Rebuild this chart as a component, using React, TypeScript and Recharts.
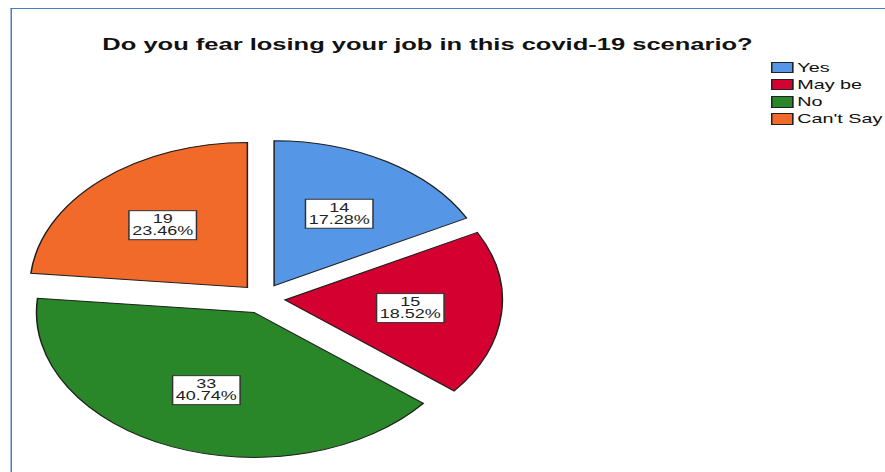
import { PieChart, Pie, Legend, Sector } from "recharts";

const categories = ["Yes", "May be", "No", "Can't Say"];
const counts = [14, 15, 33, 19];
const colors = ["#5597e6", "#d4002f", "#298629", "#f26a2a"];

const title = "Do you fear losing your job in this covid-19 scenario?";

const FONT = '"Liberation Sans", Arial, sans-serif';
// the original export is stretched horizontally, so draw at 590 wide and scale by 1.5
const STRETCH = 1.5;
const RAD = Math.PI / 180;
const EXPLODE = 15;
const LABEL_R = 99;

const data = categories.map((name, i) => ({ name, value: counts[i], fill: colors[i] }));

const ExplodedSector = (props: any) => {
  const { cx, cy, outerRadius, startAngle, endAngle, fill } = props;
  const mid = ((startAngle + endAngle) / 2) * RAD;
  const dx = EXPLODE * Math.cos(mid);
  const dy = -EXPLODE * Math.sin(mid);
  return (
    <Sector
      cx={cx + dx}
      cy={cy + dy}
      innerRadius={0}
      outerRadius={outerRadius}
      startAngle={startAngle}
      endAngle={endAngle}
      fill={fill}
      stroke="#1e1e1e"
      strokeWidth={1}
    />
  );
};

const renderLabel = (props: any) => {
  const { cx, cy, midAngle, value, percent } = props;
  const x = cx + LABEL_R * Math.cos(-midAngle * RAD);
  const y = cy + LABEL_R * Math.sin(-midAngle * RAD);
  return (
    <g>
      <rect x={x - 22.5} y={y - 14.5} width={45} height={29} fill="#fff" stroke="#333" strokeWidth={1} />
      <text x={x} y={y - 6.5} textAnchor="middle" dominantBaseline="central" fontSize={12} fontFamily={FONT} fill="#222">
        {value}
      </text>
      <text x={x} y={y + 5.5} textAnchor="middle" dominantBaseline="central" fontSize={12} fontFamily={FONT} fill="#222">
        {(percent * 100).toFixed(2)}%
      </text>
    </g>
  );
};

const LegendBox = ({ payload }: any) => {
  const items = [...(payload || [])].sort(
    (a: any, b: any) => categories.indexOf(a.value) - categories.indexOf(b.value)
  );
  return (
    <div>
      {items.map((p: any) => (
        <div key={p.value} style={{ display: "flex", alignItems: "center", height: 17.2, whiteSpace: "nowrap" }}>
          <span
            style={{
              width: 14.5,
              height: 11.5,
              background: colors[categories.indexOf(p.value)],
              border: "1px solid #222",
              boxSizing: "border-box",
              marginRight: 3,
              flex: "none",
            }}
          />
          <span style={{ fontSize: 13.2, fontFamily: FONT, color: "#111", lineHeight: "17.2px" }}>{p.value}</span>
        </div>
      ))}
    </div>
  );
};

export default function App() {
  return (
    <div style={{ position: "absolute", left: 0, top: 0, width: 885, height: 472, overflow: "hidden", background: "#fff" }}>
      <div style={{ position: "relative", width: 590, height: 472, transform: `scaleX(${STRETCH})`, transformOrigin: "0 0" }}>
        <div
          style={{
            position: "absolute",
            left: 7,
            top: 8,
            width: 700,
            height: 600,
            borderTop: "1px solid #4a7ebb",
            borderLeft: "1px solid #4a7ebb",
          }}
        />
        <div
          style={{
            position: "absolute",
            left: 0,
            top: 35,
            width: 570,
            textAlign: "center",
            fontFamily: FONT,
            fontWeight: "bold",
            fontSize: 17,
            lineHeight: "20px",
            color: "#111",
            whiteSpace: "nowrap",
          }}
        >
          {title}
        </div>
        <div style={{ position: "absolute", left: 0, top: 0 }}>
          <PieChart width={590} height={472} margin={{ top: 0, right: 0, bottom: 0, left: 0 }}>
            <Pie
              data={data}
              dataKey="value"
              nameKey="name"
              cx={175}
              cy={298.5}
              outerRadius={145}
              startAngle={90}
              endAngle={-270}
              shape={ExplodedSector}
              label={renderLabel}
              labelLine={false}
              isAnimationActive={false}
            />
            <Legend
              layout="vertical"
              align="right"
              verticalAlign="top"
              content={LegendBox}
              wrapperStyle={{ left: 514, top: 58.9, width: 80, right: "auto" }}
            />
          </PieChart>
        </div>
      </div>
    </div>
  );
}
